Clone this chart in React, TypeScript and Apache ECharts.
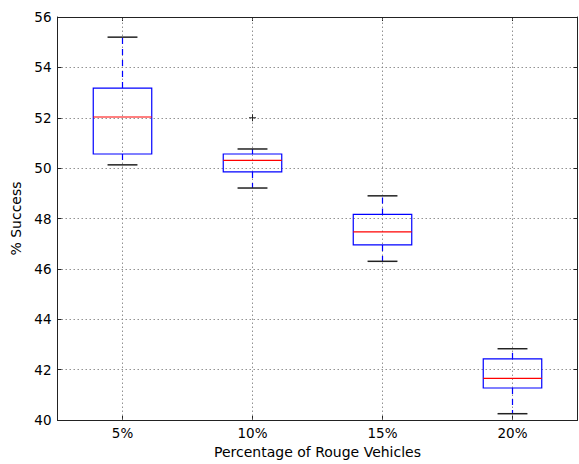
import React, { useEffect, useRef } from "react";
import * as echarts from "echarts";

const categories = ["5%", "10%", "15%", "20%"];
const lowWhisker = [50.13, 49.21, 46.3, 40.25];
const q1 = [50.56, 49.85, 46.95, 41.27];
const median = [52.03, 50.31, 47.47, 41.65];
const q3 = [53.18, 50.56, 48.16, 42.43];
const highWhisker = [55.2, 50.76, 48.9, 42.83];
const outliers: [number, number][] = [[1, 52.0]];
const yTicks = { min: 40, max: 56, interval: 2 };

const FONT = "DejaVu Sans";

export default function App() {
  const ref = useRef<HTMLDivElement>(null);
  useEffect(() => {
    if (!ref.current) return;
    const chart = echarts.init(ref.current, null, { renderer: "svg" });
    const boxData = categories.map((_, i) => [i, lowWhisker[i], q1[i], median[i], q3[i], highWhisker[i]]);
    const gridLineData = categories.map((_, i) => [i]);
    const axisColor = "#222";
    const gridColor = "#777";
    const option: any = {
      animation: false,
      backgroundColor: "#fff",
      grid: { left: 57.5, right: 1.5, top: 17, bottom: 44, containLabel: false },
      xAxis: [
        {
          type: "category",
          data: categories,
          position: "bottom",
          boundaryGap: true,
          name: "Percentage of Rouge Vehicles",
          nameLocation: "middle",
          nameGap: 23,
          nameTextStyle: { fontFamily: FONT, fontSize: 14, color: "#000" },
          axisLine: { show: true, lineStyle: { color: axisColor, width: 1 } },
          axisTick: { show: true, inside: true, length: 4, alignWithLabel: true, lineStyle: { color: axisColor } },
          axisLabel: { fontFamily: FONT, fontSize: 13.5, color: "#000", margin: 6 },
          splitLine: { show: false },
        },
        {
          type: "category",
          data: categories,
          position: "top",
          boundaryGap: true,
          axisLine: { show: true, lineStyle: { color: axisColor, width: 1 } },
          axisTick: { show: true, inside: true, length: 4, alignWithLabel: true, lineStyle: { color: axisColor } },
          axisLabel: { show: false },
          splitLine: { show: false },
        },
      ],
      yAxis: [
        {
          type: "value",
          min: yTicks.min,
          max: yTicks.max,
          interval: yTicks.interval,
          position: "left",
          name: "% Success",
          nameLocation: "middle",
          nameGap: 29,
          nameTextStyle: { fontFamily: FONT, fontSize: 14, color: "#000" },
          axisLine: { show: true, lineStyle: { color: axisColor, width: 1 } },
          axisTick: { show: true, inside: true, length: 4, lineStyle: { color: axisColor } },
          axisLabel: { fontFamily: FONT, fontSize: 13.5, color: "#000", margin: 6 },
          splitLine: { show: true, lineStyle: { color: gridColor, width: 0.8, type: [1.5, 2.5] } },
        },
        {
          type: "value",
          min: yTicks.min,
          max: yTicks.max,
          interval: yTicks.interval,
          position: "right",
          axisLine: { show: true, lineStyle: { color: axisColor, width: 1 } },
          axisTick: { show: true, inside: true, length: 4, lineStyle: { color: axisColor } },
          axisLabel: { show: false },
          splitLine: { show: false },
        },
      ],
      series: [
        {
          type: "custom",
          name: "vgrid",
          xAxisIndex: 0,
          yAxisIndex: 0,
          z: 1,
          silent: true,
          data: gridLineData,
          renderItem: (params: any, api: any) => {
            const x = api.value(0);
            const p0 = api.coord([x, yTicks.min]);
            const p1 = api.coord([x, yTicks.max]);
            return {
              type: "line",
              shape: { x1: p0[0], y1: p0[1], x2: p1[0], y2: p1[1] },
              style: { stroke: gridColor, lineWidth: 0.8, lineDash: [1.5, 2.5] },
            };
          },
        },
        {
          type: "custom",
          name: "boxes",
          xAxisIndex: 0,
          yAxisIndex: 0,
          z: 3,
          data: boxData,
          renderItem: (params: any, api: any) => {
            const x = api.value(0);
            const pLow = api.coord([x, api.value(1)]);
            const pQ1 = api.coord([x, api.value(2)]);
            const pMed = api.coord([x, api.value(3)]);
            const pQ3 = api.coord([x, api.value(4)]);
            const pHigh = api.coord([x, api.value(5)]);
            const band = api.size([1, 0])[0];
            const boxW = band * 0.45;
            const capW = band * 0.23;
            const cx = pMed[0];
            return {
              type: "group",
              children: [
                {
                  type: "line",
                  shape: { x1: cx, y1: pQ3[1], x2: cx, y2: pHigh[1] },
                  style: { stroke: "#0000ff", lineWidth: 1.2, lineDash: [6, 5] },
                },
                {
                  type: "line",
                  shape: { x1: cx, y1: pQ1[1], x2: cx, y2: pLow[1] },
                  style: { stroke: "#0000ff", lineWidth: 1.2, lineDash: [6, 5] },
                },
                {
                  type: "line",
                  shape: { x1: cx - capW / 2, y1: pHigh[1], x2: cx + capW / 2, y2: pHigh[1] },
                  style: { stroke: "#222", lineWidth: 1.5 },
                },
                {
                  type: "line",
                  shape: { x1: cx - capW / 2, y1: pLow[1], x2: cx + capW / 2, y2: pLow[1] },
                  style: { stroke: "#222", lineWidth: 1.5 },
                },
                {
                  type: "rect",
                  shape: { x: cx - boxW / 2, y: pQ3[1], width: boxW, height: pQ1[1] - pQ3[1] },
                  style: { fill: "none", stroke: "#0000ff", lineWidth: 1.2 },
                },
                {
                  type: "line",
                  shape: { x1: cx - boxW / 2, y1: pMed[1], x2: cx + boxW / 2, y2: pMed[1] },
                  style: { stroke: "#ff0000", lineWidth: 1.2 },
                },
              ],
            };
          },
        },
        {
          type: "custom",
          name: "outliers",
          xAxisIndex: 0,
          yAxisIndex: 0,
          z: 3,
          data: outliers,
          renderItem: (params: any, api: any) => {
            const p = api.coord([api.value(0), api.value(1)]);
            const s = 3.5;
            return {
              type: "group",
              children: [
                { type: "line", shape: { x1: p[0] - s, y1: p[1], x2: p[0] + s, y2: p[1] }, style: { stroke: "#222", lineWidth: 1 } },
                { type: "line", shape: { x1: p[0], y1: p[1] - s, x2: p[0], y2: p[1] + s }, style: { stroke: "#222", lineWidth: 1 } },
              ],
            };
          },
        },
      ],
    };
    chart.setOption(option);
    return () => chart.dispose();
  }, []);
  return <div ref={ref} style={{ position: "fixed", left: 0, top: 0, width: 579, height: 464 }} />;
}
